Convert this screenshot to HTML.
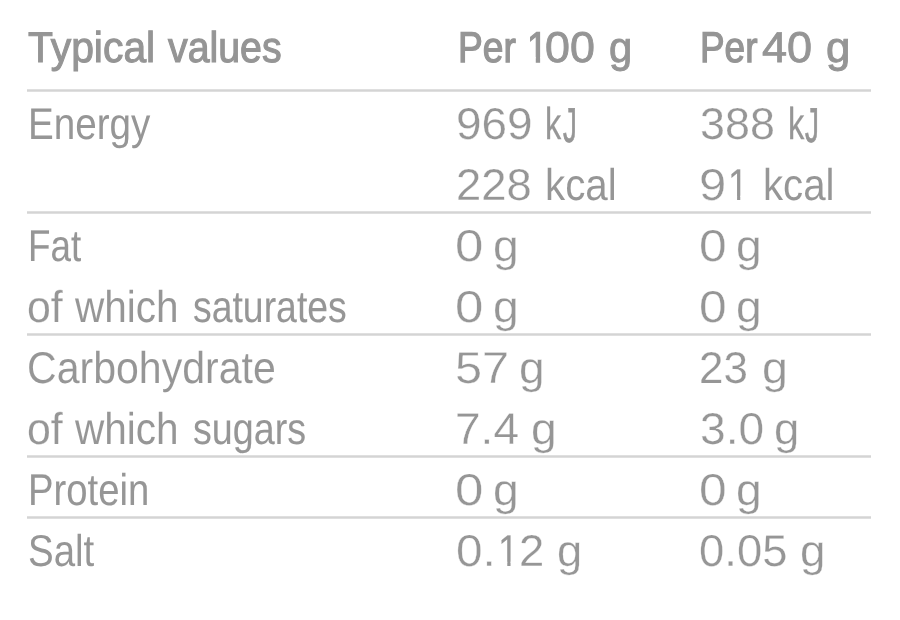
<!DOCTYPE html>
<html lang="en"><head><meta charset="utf-8"><title>Typical values</title>
<style>
html,body{margin:0;padding:0;background:#fff}
body{width:900px;height:620px;position:relative;overflow:hidden;font-family:"Liberation Sans",sans-serif;text-rendering:geometricPrecision}
.r{position:absolute;left:0;width:900px;height:100px;line-height:100px;white-space:nowrap}
.r.h{font-size:43px;color:#959595}
.r.b{font-size:44.5px;color:#969696}
.c{display:inline}
.r span{position:absolute;top:0;height:100px;transform-origin:0 0;display:block}
.ln{position:absolute;left:27px;width:844px;height:3px;background:linear-gradient(#dfdfdf 0 1px,#d4d4d4 1px 2px,#dfdfdf 2px 3px)}
</style></head><body>
<div class="ln" style="top:89px"></div>
<div class="ln" style="top:211px"></div>
<div class="ln" style="top:333px"></div>
<div class="ln" style="top:455px"></div>
<div class="ln" style="top:516px"></div>
<div class="r h" style="top:-2px">
  <div class="c"><span style="left:27.52px;transform:scaleX(0.9504);-webkit-text-stroke:1.05px #959595;">Typical</span> <span style="left:168.16px;transform:scaleX(0.9139);-webkit-text-stroke:1.15px #959595;">values</span></div>
  <div class="c"><span style="left:458.11px;transform:scaleX(0.8643);-webkit-text-stroke:1.29px #959595;">Per</span> <span style="left:526.59px;transform:scaleX(0.8596);-webkit-text-stroke:1.30px #959595;clip-path:polygon(0 0,100% 0,100% 59.36px,15.26px 59.36px,15.26px 100px,10.22px 100px,10.22px 59.36px,0 59.36px);">1</span><span style="left:544.70px;transform:scaleX(1.0409);-webkit-text-stroke:0.87px #959595;">00</span> <span style="left:608.79px;transform:scaleX(0.9707);-webkit-text-stroke:0.94px #959595;">g</span></div>
  <div class="c"><span style="left:700.13px;transform:scaleX(0.8580);-webkit-text-stroke:1.29px #959595;">Per</span> <span style="left:762.38px;transform:scaleX(1.0478);-webkit-text-stroke:0.84px #959595;">40</span> <span style="left:826.03px;transform:scaleX(1.0195);-webkit-text-stroke:0.94px #959595;">g</span></div>
</div>
<div class="r b" style="top:75px">
  <div class="c"><span style="left:27.75px;transform:scaleX(0.8679);-webkit-text-stroke:0;">Energy</span></div>
  <div class="c"><span style="left:455.68px;transform:scaleX(1.0323);-webkit-text-stroke:0.29px #fff;">969</span> <span style="left:545.49px;transform:scaleX(0.7291);-webkit-text-stroke:0.27px #969696;">k</span><span style="left:562.64px;transform-origin:0 33.4px;transform:scale(0.6211,1.1);-webkit-text-stroke:0.66px #969696;">J</span></div>
  <div class="c"><span style="left:699.68px;transform:scaleX(1.0078);-webkit-text-stroke:0.26px #fff;">388</span> <span style="left:788.28px;transform:scaleX(0.7342);-webkit-text-stroke:0.27px #969696;">k</span><span style="left:805.44px;transform-origin:0 33.4px;transform:scale(0.6263,1.1);-webkit-text-stroke:0.66px #969696;">J</span></div>
</div>
<div class="r b" style="top:136px">
  <div class="c"><span style="left:455.85px;transform:scaleX(1.0208);-webkit-text-stroke:0.28px #fff;">228</span> <span style="left:544.88px;transform:scaleX(0.9068);-webkit-text-stroke:0.05px #fff;">kcal</span></div>
  <div class="c"><span style="left:698.52px;transform:scaleX(1.1012);-webkit-text-stroke:0.35px #fff;">9</span><span style="left:727.86px;transform:scaleX(0.8091);-webkit-text-stroke:0.06px #969696;clip-path:polygon(0 0,100% 0,100% 59.87px,15.15px 59.87px,15.15px 100px,11.22px 100px,11.22px 59.87px,0 59.87px);">1</span> <span style="left:763.09px;transform:scaleX(0.9041);-webkit-text-stroke:0.05px #fff;">kcal</span></div>
</div>
<div class="r b" style="top:197px">
  <div class="c"><span style="left:27.91px;transform:scaleX(0.8264);-webkit-text-stroke:0.12px #969696;">Fat</span></div>
  <div class="c"><span style="left:455.21px;transform:scaleX(1.1470);-webkit-text-stroke:0.35px #fff;">0</span> <span style="left:493.22px;transform:scaleX(1.0380);-webkit-text-stroke:0.30px #fff;">g</span></div>
  <div class="c"><span style="left:698.56px;transform:scaleX(1.1181);-webkit-text-stroke:0.35px #fff;">0</span> <span style="left:736.12px;transform:scaleX(1.0380);-webkit-text-stroke:0.30px #fff;">g</span></div>
</div>
<div class="r b" style="top:258px">
  <div class="c"><span style="left:27.17px;transform:scaleX(0.9629);-webkit-text-stroke:0.17px #fff;">of</span> <span style="left:75.20px;transform:scaleX(0.9111);-webkit-text-stroke:0.06px #fff;">which</span> <span style="left:192.85px;transform:scaleX(0.8399);-webkit-text-stroke:0.10px #969696;">saturates</span></div>
  <div class="c"><span style="left:455.21px;transform:scaleX(1.1470);-webkit-text-stroke:0.35px #fff;">0</span> <span style="left:493.22px;transform:scaleX(1.0380);-webkit-text-stroke:0.30px #fff;">g</span></div>
  <div class="c"><span style="left:698.56px;transform:scaleX(1.1181);-webkit-text-stroke:0.35px #fff;">0</span> <span style="left:736.12px;transform:scaleX(1.0380);-webkit-text-stroke:0.30px #fff;">g</span></div>
</div>
<div class="r b" style="top:319px">
  <div class="c"><span style="left:27.02px;transform:scaleX(0.9225);-webkit-text-stroke:0.09px #fff;">Carbohydrate</span></div>
  <div class="c"><span style="left:455.31px;transform:scaleX(1.0933);-webkit-text-stroke:0.35px #fff;">57</span> <span style="left:518.73px;transform:scaleX(1.0329);-webkit-text-stroke:0.30px #fff;">g</span></div>
  <div class="c"><span style="left:699.48px;transform:scaleX(0.9878);-webkit-text-stroke:0.23px #fff;">23</span> <span style="left:761.60px;transform:scaleX(1.0481);-webkit-text-stroke:0.30px #fff;">g</span></div>
</div>
<div class="r b" style="top:380px">
  <div class="c"><span style="left:27.17px;transform:scaleX(0.9629);-webkit-text-stroke:0.17px #fff;">of</span> <span style="left:75.20px;transform:scaleX(0.9111);-webkit-text-stroke:0.06px #fff;">which</span> <span style="left:192.84px;transform:scaleX(0.8467);-webkit-text-stroke:0.08px #969696;">sugars</span></div>
  <div class="c"><span style="left:455.41px;transform:scaleX(1.0345);-webkit-text-stroke:0.30px #fff;">7.4</span> <span style="left:531.12px;transform:scaleX(1.0380);-webkit-text-stroke:0.30px #fff;">g</span></div>
  <div class="c"><span style="left:699.63px;transform:scaleX(1.0362);-webkit-text-stroke:0.30px #fff;">3.0</span> <span style="left:774.35px;transform:scaleX(1.0228);-webkit-text-stroke:0.30px #fff;">g</span></div>
</div>
<div class="r b" style="top:441px">
  <div class="c"><span style="left:27.59px;transform:scaleX(0.8594);-webkit-text-stroke:0.05px #969696;">Protein</span></div>
  <div class="c"><span style="left:455.21px;transform:scaleX(1.1470);-webkit-text-stroke:0.35px #fff;">0</span> <span style="left:493.22px;transform:scaleX(1.0380);-webkit-text-stroke:0.30px #fff;">g</span></div>
  <div class="c"><span style="left:698.56px;transform:scaleX(1.1181);-webkit-text-stroke:0.35px #fff;">0</span> <span style="left:736.12px;transform:scaleX(1.0380);-webkit-text-stroke:0.30px #fff;">g</span></div>
</div>
<div class="r b" style="top:502px">
  <div class="c"><span style="left:27.97px;transform:scaleX(0.8646);-webkit-text-stroke:0;">Salt</span></div>
  <div class="c"><span style="left:455.65px;transform:scaleX(1.0732);-webkit-text-stroke:0.35px #fff;">0.</span><span style="left:497.58px;transform:scaleX(0.8273);-webkit-text-stroke:0.06px #969696;clip-path:polygon(0 0,100% 0,100% 59.87px,15.15px 59.87px,15.15px 100px,11.22px 100px,11.22px 59.87px,0 59.87px);">1</span><span style="left:519.14px;transform:scaleX(1.0228);-webkit-text-stroke:0.28px #fff;">2</span> <span style="left:556.76px;transform:scaleX(1.0177);-webkit-text-stroke:0.30px #fff;">g</span></div>
  <div class="c"><span style="left:698.76px;transform:scaleX(1.0206);-webkit-text-stroke:0.27px #fff;">0.05</span> <span style="left:799.64px;transform:scaleX(1.0278);-webkit-text-stroke:0.30px #fff;">g</span></div>
</div>
</body></html>
